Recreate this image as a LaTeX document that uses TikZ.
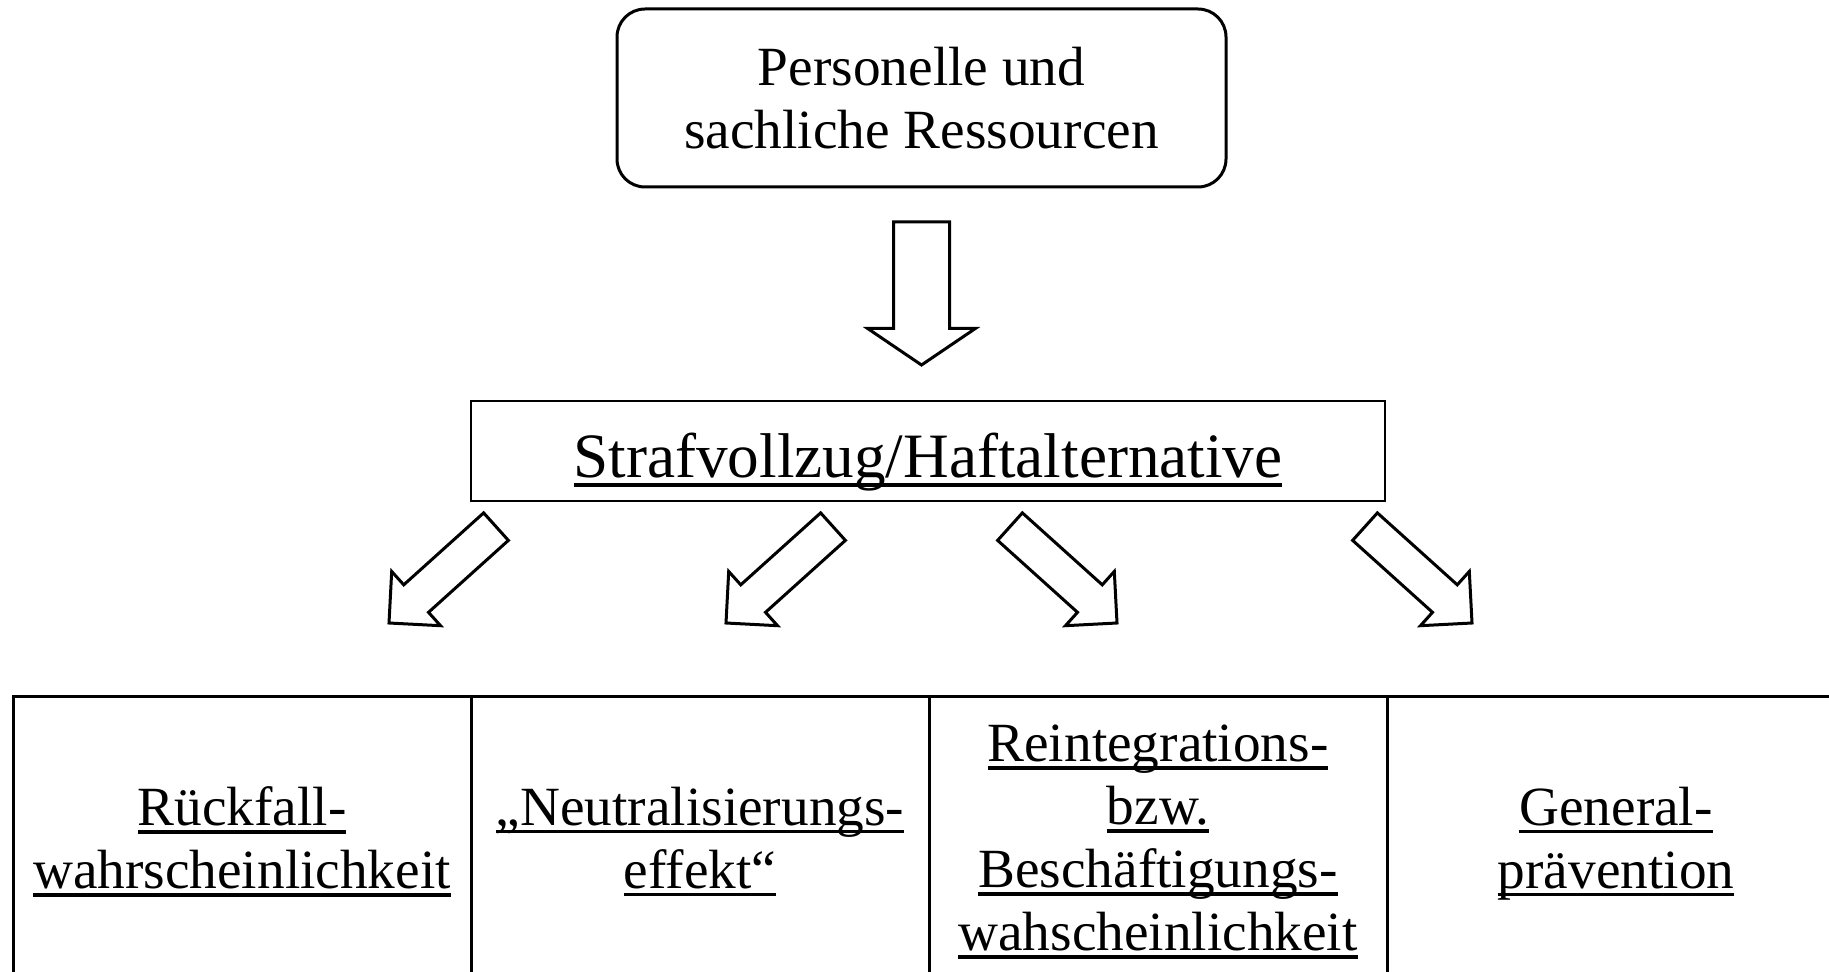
\documentclass[tikz,border=0pt]{standalone}
\usepackage{fontspec}
\setmainfont{Liberation Serif}
\usetikzlibrary{positioning}

\newsavebox\ulbox
\newcommand\ulin[1]{\sbox\ulbox{#1}\rlap{\rule[-0.14em]{\wd\ulbox}{0.06em}}\usebox\ulbox}

\tikzset{
  % block arrow, tip at the origin: length, head length, half head, half shaft
  pics/fatarrow/.style n args={4}{code={
    \draw[line width=1.5pt] (0pt,0pt) -- (-#2,#3) -- (-#2,#4) -- (-#1,#4)
      -- (-#1,-#4) -- (-#2,-#4) -- (-#2,-#3) -- cycle;
  }}
}

\begin{document}
\begin{tikzpicture}[
  x=0.5pt, y=-0.5pt,
  every node/.style={align=center,font=\fontsize{27.65pt}{31.5pt}\selectfont},
  resbox/.style={draw,line width=1.5pt,rounded corners=14pt,minimum width=304.5pt,minimum height=89pt,inner sep=0pt},
  midbox/.style={draw,line width=1pt,minimum width=457pt,minimum height=50pt,inner sep=0pt,
    text height=33pt,text depth=6pt,font=\fontsize{31.6pt}{36pt}\selectfont},
  cell/.style={draw,line width=1.5pt,minimum width=229pt,minimum height=142pt,inner sep=0pt,outer sep=0pt,text depth=0pt}
]
  \useasboundingbox (0,0) rectangle (1829,972);
  \clip (0,0) rectangle (1829,972);

  \node[resbox] (res) at (921.5,98) {Personelle und\\sachliche Ressourcen};
  \pic[rotate=-90] (down) at (921.5,365) {fatarrow={71.5pt}{18.3pt}{27pt}{14pt}};
  \node[midbox] (vollzug) at (928,451) {\ulin{Strafvollzug/Haftalternative}};

  % arrows to the effects
  \pic[rotate=222] (a1) at (389,623) {fatarrow={72pt}{18.25pt}{18.25pt}{9.25pt}};
  \pic[rotate=222] (a2) at (726,623) {fatarrow={72pt}{18.25pt}{18.25pt}{9.25pt}};
  \pic[rotate=-42] (a3) at (1117,623) {fatarrow={72pt}{18.25pt}{18.25pt}{9.25pt}};
  \pic[rotate=-42] (a4) at (1472,623) {fatarrow={72pt}{18.25pt}{18.25pt}{9.25pt}};

  % table of effects
  \node[cell,anchor=north west] (rueck) at (13,696) {\ulin{Rückfall-}\\\ulin{wahrscheinlichkeit}};
  \node[cell,right=0pt of rueck] (neutral) {\ulin{„Neutralisierungs-}\\\ulin{effekt“}};
  \node[cell,right=0pt of neutral] (reint) {\ulin{Reintegrations-}\\\ulin{bzw.}\\\ulin{Beschäftigungs-}\\\ulin{wahscheinlichkeit}};
  \node[cell,right=0pt of reint] (general) {\ulin{General-}\\\ulin{prävention}};
\end{tikzpicture}
\end{document}
